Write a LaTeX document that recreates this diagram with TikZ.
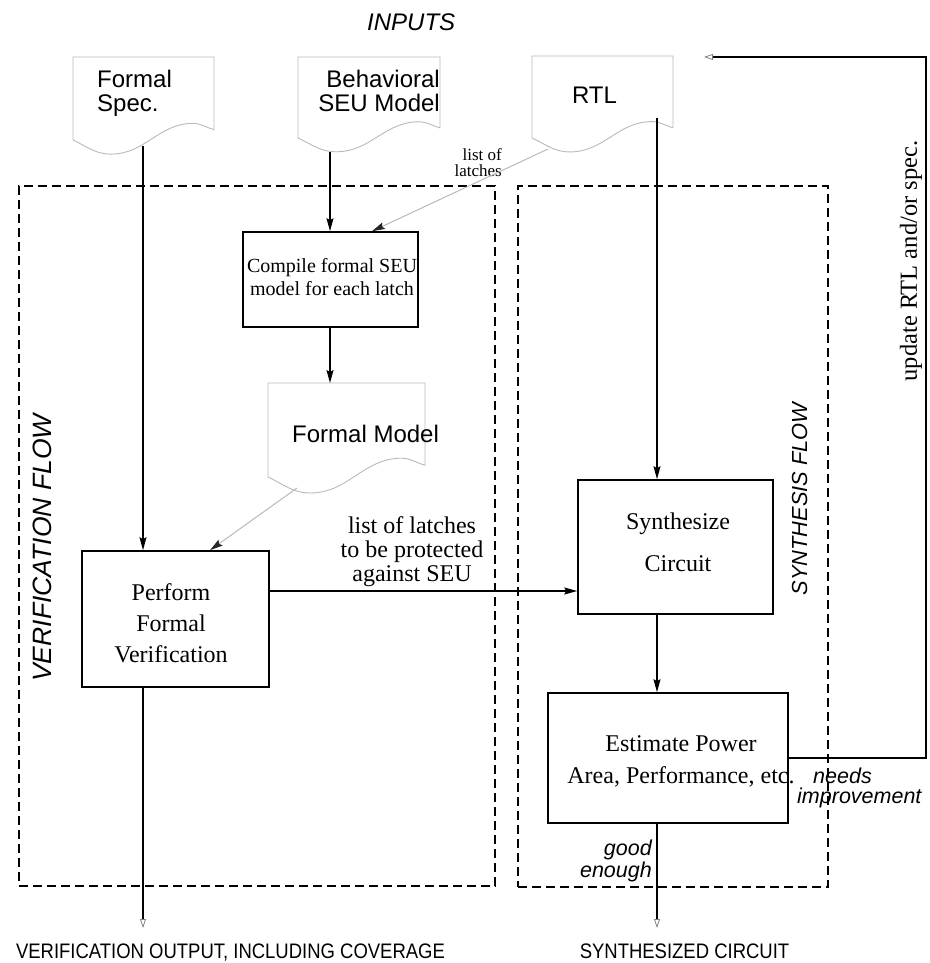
\documentclass[tikz,border=0pt]{standalone}
\usepackage{fontspec}
\usepackage{graphicx}
\setmainfont{Liberation Serif}
\setsansfont{Liberation Sans}
\usetikzlibrary{arrows.meta}

\newcommand{\docshape}[5]{%
  \pgfmathsetmacro{\dsRB}{#3+0.875*(#5-#3)}%
  \pgfmathsetmacro{\dsPx}{#2+0.85*(#4-#2)}%
  \pgfmathsetmacro{\dsPy}{#3+0.8*(#5-#3)}%
  \pgfmathsetmacro{\dsTx}{#2+0.27*(#4-#2)}%
  \pgfmathsetmacro{\dsTy}{#5+0.17*(#5-#3)}%
  \pgfmathsetmacro{\dsW}{#4-#2}%
  \pgfmathsetmacro{\dsH}{#5-#3}%
  \draw[docline] (#2,#3) -- (#4,#3) -- (#4,\dsRB)
    to[out=165,in=0] (\dsPx,\dsPy)
    to[out=180,in=0] (\dsTx,\dsTy)
    to[out=180,in=-25] (#2,#5) -- cycle;
  \node[inner sep=0, minimum width=\dsW pt, minimum height=\dsH pt, anchor=north west] (#1) at (#2,#3) {};
}

\begin{document}
\begin{tikzpicture}[x=1pt,y=-1pt,
  docline/.style={draw=gray!55, line width=0.9pt},
  box/.style={draw, line width=1.6pt, inner sep=0},
  flow/.style={line width=1.4pt, -{Stealth[length=13pt,width=7pt,inset=2pt]}},
  glink/.style={draw=gray!55, line width=1pt, -{Stealth[length=13pt,width=7pt,inset=2pt,color=black!85]}},
  outflow/.style={line width=1.4pt, -{Triangle[open,length=9pt,width=6pt,line width=0.8pt,color=gray]}},
  frame/.style={draw, line width=1.8pt, dash pattern=on 9pt off 5pt, inner sep=0},
  sanstext/.style={font=\sffamily\fontsize{24}{24}\selectfont, inner sep=0},
  sansit/.style={font=\sffamily\itshape\fontsize{21.5}{21}\selectfont, inner sep=0},
  serift/.style={font=\rmfamily\fontsize{24}{24}\selectfont, inner sep=0},
  outlabel/.style={font=\sffamily\fontsize{21}{21}\selectfont, inner sep=0, anchor=base}
]
\useasboundingbox (0,0) rectangle (929,963);

% flow frames
\node[frame, anchor=north west, minimum width=476pt, minimum height=700pt] (verframe) at (18,185) {};
\node[frame, anchor=north west, minimum width=310pt, minimum height=701pt] (synframe) at (517,185) {};
\node[font=\sffamily\itshape\fontsize{26.5}{26.5}\selectfont, inner sep=0, rotate=90] (verlabel) at (42,548) {VERIFICATION FLOW};
\node[font=\sffamily\itshape\fontsize{21.8}{22}\selectfont, inner sep=0, rotate=90] (synlabel) at (799.5,499) {SYNTHESIS FLOW};

% inputs
\node[font=\sffamily\itshape\fontsize{24}{24}\selectfont, anchor=base west, inner sep=0] (inputs) at (367,31) {INPUTS};

% documents
\docshape{fspec}{73}{57}{214}{140}
\docshape{bseu}{298}{57}{440}{138}
\docshape{rtl}{532}{56}{673}{138}
\docshape{fmodel}{268}{383}{425}{477}
\node[sanstext, anchor=base west, align=left] (fspectext) at (97,112) {Formal\\Spec.};
\node[sanstext, anchor=base east, align=right] (bseutext) at (440,112) {Behavioral\\SEU Model};
\node[sanstext, anchor=base] (rtltext) at (594.5,103) {RTL};
\node[sanstext, anchor=base west] (fmodeltext) at (292,442) {Formal Model};

% process boxes
\node[box, minimum width=175pt, minimum height=95pt] (compile) at (330.5,279.5) {};
\node[serift, font=\rmfamily\fontsize{20}{23}\selectfont, anchor=base, align=center] (compiletext) at (332,295) {Compile formal SEU\\model for each latch};
\node[box, minimum width=187pt, minimum height=136pt] (perform) at (175.5,619) {};
\node[serift, font=\rmfamily\fontsize{24}{31}\selectfont, align=center] (performtext) at (171,623) {Perform\\Formal\\Verification};
\node[box, minimum width=195pt, minimum height=134pt] (synth) at (675.5,547) {};
\node[serift, font=\rmfamily\fontsize{24}{42}\selectfont, align=center] (synthtext) at (678,542) {Synthesize\\Circuit};
\node[box, minimum width=240pt, minimum height=130pt] (estimate) at (668,758) {};
\node[serift, font=\rmfamily\fontsize{24}{32}\selectfont, align=center] (estimatetext) at (681,761) {Estimate Power\\Area, Performance, etc.};

% labels
\node[serift, anchor=base, align=center] (latchlabel) at (412,581) {list of latches\\to be protected\\against SEU};
\node[font=\rmfamily\fontsize{17}{16}\selectfont, align=right, anchor=base east, inner sep=0] (latchsmall) at (502,176) {list of\\latches};
\node[font=\rmfamily\fontsize{24.5}{24.5}\selectfont, rotate=90, inner sep=0] (updlabel) at (911,261) {update RTL and/or spec.};
\node[sansit, font=\sffamily\itshape\fontsize{21.5}{22}\selectfont, anchor=base east, align=right] (goodlabel) at (652,877) {good\\enough};
\node[sansit, font=\sffamily\itshape\fontsize{21.5}{20}\selectfont, anchor=base west, align=left] (needslabel) at (797,803) {\hspace*{16pt}needs\\improvement};
\node[outlabel] (verout) at (230.5,958) {\scalebox{0.88}[1]{VERIFICATION OUTPUT, INCLUDING COVERAGE}};
\node[outlabel] (synout) at (684.5,958) {\scalebox{0.88}[1]{SYNTHESIZED CIRCUIT}};

% connector points
\coordinate (fsout) at (143,146);
\coordinate (bout) at (330,152);
\coordinate (rtlout) at (657,118);
\coordinate (rtlside) at (548,149);
\coordinate (fmout) at (297,488);
\coordinate (cmpx) at (372,0);
\coordinate (pfx) at (210,0);
\coordinate (latchrow) at (0,591);
\coordinate (verend) at (143,928);
\coordinate (synend) at (657,928);
\coordinate (fbc1) at (926,758);
\coordinate (fbc2) at (926,57);
\coordinate (fbend) at (704,57);

% connectors
\draw[flow] (fsout) -- (fsout |- perform.north);
\draw[flow] (bout) -- (bout |- compile.north);
\draw[glink] (rtlside) -- (cmpx |- compile.north);
\draw[flow] (bout |- compile.south) -- (bout |- fmodel.north);
\draw[glink] (fmout) -- (pfx |- perform.north);
\draw[flow] (rtlout) -- (rtlout |- synth.north);
\draw[flow] (perform.east |- latchrow) -- (synth.west |- latchrow);
\draw[flow] (rtlout |- synth.south) -- (rtlout |- estimate.north);
\draw[outflow] (fsout |- perform.south) -- (verend);
\draw[outflow] (rtlout |- estimate.south) -- (synend);
\draw[outflow] (estimate.east) -- (fbc1) -- (fbc2) -- (fbend);
\end{tikzpicture}
\end{document}
